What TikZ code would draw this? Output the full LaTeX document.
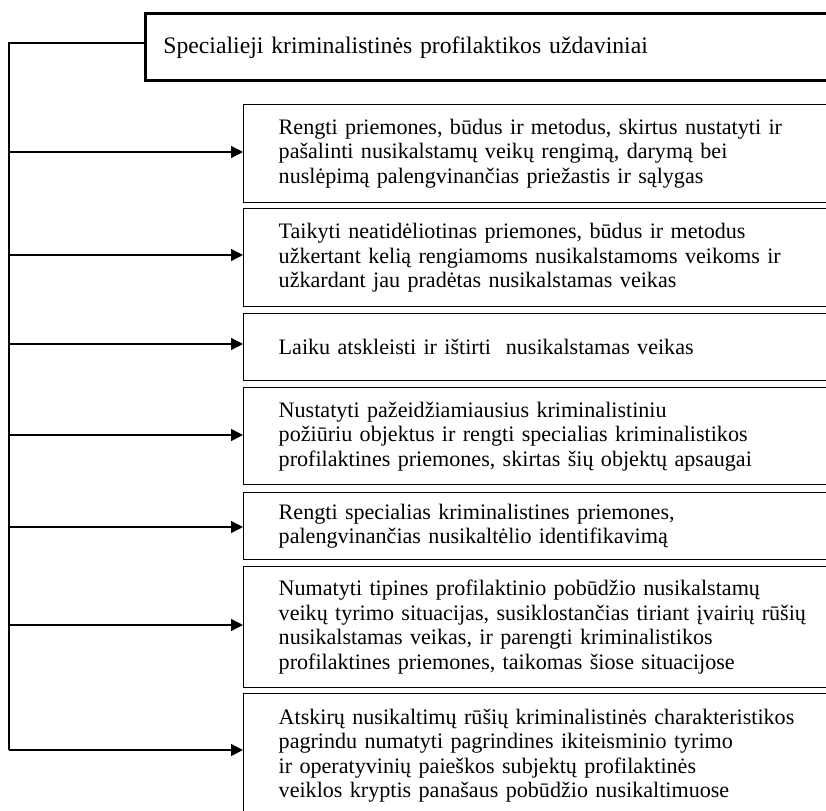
\documentclass[tikz,border=0pt]{standalone}
\usepackage{fontspec}
\setmainfont{Liberation Serif}
\usetikzlibrary{arrows.meta}
\tikzset{
  taskbox/.style={draw, line width=1.4pt, anchor=north west, align=left,
    text width=580pt, inner xsep=35pt, inner ysep=0pt,
    font=\fontsize{22.1}{24.5}\selectfont},
  headbox/.style={draw, line width=2.8pt, anchor=north west, align=left,
    text width=700pt, inner xsep=18pt, inner ysep=0pt, minimum height=67pt,
    font=\fontsize{23.7}{26}\selectfont},
  trunk/.style={line width=1.4pt},
  arr/.style={line width=1.4pt, -{Triangle[length=12pt,width=12pt]}}
}
\begin{document}
\begin{tikzpicture}[x=1pt,y=-1pt]
\useasboundingbox (0,0) rectangle (826,810);
\clip (0,0) rectangle (826,810);
\fill[white] (0,0) rectangle (826,810);

\node[headbox] (head) at (144,12.5) {Specialieji kriminalistinės profilaktikos uždaviniai};

\node[taskbox, minimum height=98pt] (b1) at (243,104) {Rengti priemones, būdus ir metodus, skirtus nustatyti ir\\pašalinti nusikalstamų veikų rengimą, darymą bei\\nuslėpimą palengvinančias priežastis ir sąlygas};
\node[taskbox, minimum height=98pt] (b2) at (243,208) {Taikyti neatidėliotinas priemones, būdus ir metodus\\užkertant kelią rengiamoms nusikalstamoms veikoms ir\\užkardant jau pradėtas nusikalstamas veikas};
\node[taskbox, minimum height=67pt] (b3) at (243,313) {Laiku atskleisti ir ištirti\ \ nusikalstamas veikas};
\node[taskbox, minimum height=97pt] (b4) at (243,387) {Nustatyti pažeidžiamiausius kriminalistiniu\\požiūriu objektus ir rengti specialias kriminalistikos\\profilaktines priemones, skirtas šių objektų apsaugai};
\node[taskbox, minimum height=67pt] (b5) at (243,492) {Rengti specialias kriminalistines priemones,\\palengvinančias nusikaltėlio identifikavimą};
\node[taskbox, minimum height=121pt] (b6) at (243,566) {Numatyti tipines profilaktinio pobūdžio nusikalstamų\\veikų tyrimo situacijas, susiklostančias tiriant įvairių rūšių\\nusikalstamas veikas, ir parengti kriminalistikos\\profilaktines priemones, taikomas šiose situacijose};
\node[taskbox, minimum height=124pt] (b7) at (243,693) {Atskirų nusikaltimų rūšių kriminalistinės charakteristikos\\pagrindu numatyti pagrindines ikiteisminio tyrimo\\ir operatyvinių paieškos subjektų profilaktinės\\veiklos kryptis panašaus pobūdžio nusikaltimuose};

\coordinate (t0) at (9,43);
\coordinate (t1) at (9,152);
\coordinate (t2) at (9,255);
\coordinate (t3) at (9,344);
\coordinate (t4) at (9,435);
\coordinate (t5) at (9,527);
\coordinate (t6) at (9,625);
\coordinate (t7) at (9,750);

\draw[trunk] (head.west |- t0) -- (t0) -- (t7);
\draw[arr] (t1) -- (t1 -| b1.west);
\draw[arr] (t2) -- (t2 -| b2.west);
\draw[arr] (t3) -- (t3 -| b3.west);
\draw[arr] (t4) -- (t4 -| b4.west);
\draw[arr] (t5) -- (t5 -| b5.west);
\draw[arr] (t6) -- (t6 -| b6.west);
\draw[arr] (t7) -- (t7 -| b7.west);
\end{tikzpicture}
\end{document}
